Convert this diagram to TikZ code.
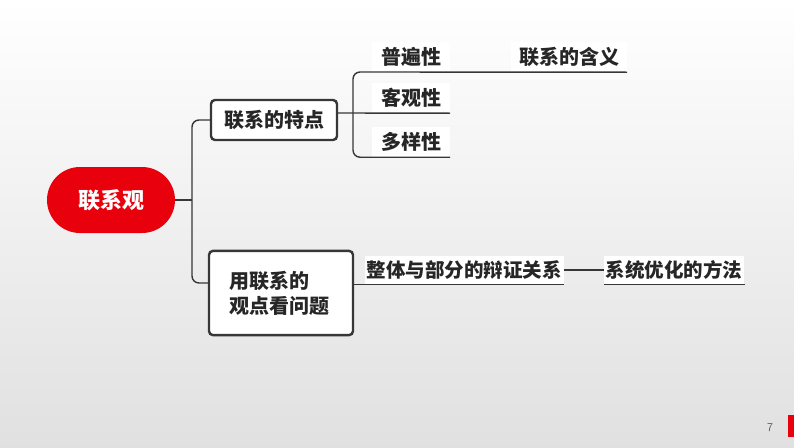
\documentclass[tikz,border=0pt]{standalone}
\usepackage{fontspec}
\usepackage{xcolor}
\usepackage{tikz}
\usetikzlibrary{positioning}
\newfontfamily\cjk{Noto Sans CJK SC}
\definecolor{rootred}{RGB}{232,0,12}
\definecolor{linegray}{RGB}{55,55,55}

\begin{document}
\begin{tikzpicture}[
	x=1pt, y=-1pt,
	root/.style={
		fill=rootred, rounded corners=33pt, minimum width=128pt, minimum height=66pt,
		font=\cjk\bfseries\fontsize{22}{26}\selectfont, text=white
	},
	box/.style={
		draw=linegray, line width=2.4pt, rounded corners=4pt, fill=white,
		font=\cjk\bfseries\fontsize{20}{25}\selectfont, text=black!85
	},
	leaf/.style={
		fill=white, inner sep=2pt, minimum height=30pt, minimum width=78pt,
		font=\cjk\bfseries\fontsize{20}{24}\selectfont, text=black!85
	},
	conn/.style={draw=linegray, line width=1.4pt}
	]
	% 背景
	\shade[top color=white, bottom color=gray!24] (0,0) rectangle (794,447);
	\useasboundingbox (0,0) rectangle (794,447);
	
	\node[root] (lxg) at (111,200) {联系观};
	\node[box, minimum width=126pt, minimum height=40pt] (fea) at (274,120) {联系的特点};
	\node[box, minimum height=74pt, text width=104pt, inner sep=20pt, align=left] (use) at (281,293) {用联系的\\观点看问题};
	
	% 特点
	\foreach \txt/\yy/\nm in {普遍性/57/pu, 客观性/98/kg, 多样性/142/dy} {
		\node[leaf] (\nm) at (411,\yy) {\txt};
	}
	\node[leaf, minimum width=116pt] (hy) at (569,57) {联系的含义};
	
	% 方法
	\node[leaf, minimum height=28pt, font=\cjk\bfseries\fontsize{19.5}{24}\selectfont] (zt) at (464,270) {整体与部分的辩证关系};
	\node[leaf, minimum height=28pt, font=\cjk\bfseries\fontsize{19.5}{24}\selectfont, right=40pt of zt] (xt) {系统优化的方法};
	
	\draw[conn] (lxg.east) -- (192,200);
	\draw[conn, rounded corners=7pt] (fea.west) -| (192,200) |- ([yshift=10pt]use.west);
	\draw[conn, rounded corners=7pt] (hy.south east) -- (353,72) |- (dy.south east);
	\draw[conn] ([yshift=7pt]fea.east) -- (kg.south east);
	\draw[conn] (use.east |- zt.south) -- (zt.south east);
	\draw[conn] (zt.east) -- (xt.west);
	\draw[conn] (xt.south west) -- (xt.south east);
	
	% 页码
	\node[font=\sffamily\fontsize{12}{14}\selectfont, text=gray!70!black] (pg) at (770,428) {7};
	\fill[rootred] (788,415) rectangle (794,437);
\end{tikzpicture}
\end{document}
